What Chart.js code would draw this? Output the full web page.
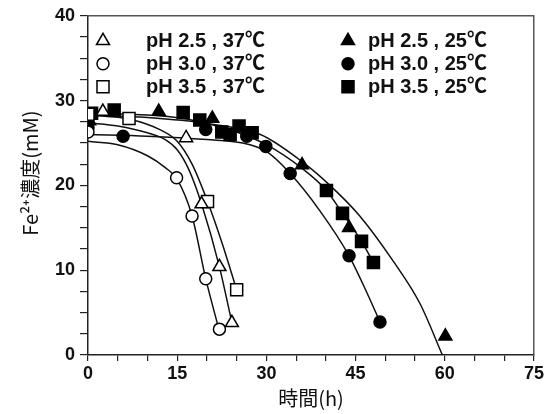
<!DOCTYPE html>
<html>
<head>
<meta charset="utf-8">
<script src="https://cdn.jsdelivr.net/npm/chart.js@4/dist/chart.umd.min.js"></script>
<style>
html, body { margin: 0; padding: 0; background: #fff; }
</style>
</head>
<body>
<canvas id="grafico" width="546" height="414"></canvas>
<script>
const tri37X = [2.5, 16.5, 19.1, 22.1, 24.2];
const tri37Y = [28.7, 25.6, 17.8, 10.4, 3.8];
const circ37X = [0, 14.9, 17.5, 19.8, 22.1];
const circ37Y = [26.3, 20.9, 16.4, 9.0, 3.05];
const sq37X = [0, 6.9, 20.1, 25.0];
const sq37Y = [28.4, 27.9, 18.1, 7.7];
const tri25X = [0.2, 11.9, 20.9, 36.0, 43.9, 60.1];
const tri25Y = [27.6, 28.7, 27.9, 22.4, 15.0, 2.2];
const circ25X = [0, 5.9, 19.8, 26.7, 29.9, 34.0, 43.9, 49.1];
const circ25Y = [26.8, 25.8, 26.6, 25.8, 24.6, 21.4, 11.7, 3.9];
const sq25X = [0.6, 4.4, 16.0, 18.8, 22.5, 23.9, 25.4, 27.6, 40.1, 42.8, 46.0, 48.0];
const sq25Y = [28.5, 28.9, 28.6, 27.7, 26.3, 26.0, 27.0, 26.2, 19.4, 16.7, 13.4, 10.9];

// fitted curves, points
const fitTri37X = [0, 5, 10, 13, 15, 17, 19.1, 22.1, 24.2];
const fitTri37Y = [27.4, 27.0, 26.2, 25.4, 24.2, 21.8, 17.8, 10.4, 3.8];
const fitCirc37X = [0, 5, 10, 13, 15, 17.5, 19.8, 22.1];
const fitCirc37Y = [25.2, 24.8, 23.5, 22.1, 20.7, 16.4, 9.0, 2.8];
const fitSq37X = [0, 7, 12, 15, 17.5, 20.1, 22.5, 25.0];
const fitSq37Y = [28.3, 27.8, 26.6, 25.2, 22.5, 18.1, 13.3, 7.7];
const fitTri25X = [0, 10, 20, 29, 36, 41, 45.7, 51.3, 55.8, 59.6];
const fitTri25Y = [28.3, 28.0, 27.3, 26.0, 22.8, 19.8, 16.4, 11.1, 6.1, 0];
const fitCirc25X = [0, 10, 20, 26, 30, 34, 39, 43.9, 47, 49.1];
const fitCirc25Y = [26.0, 25.8, 25.4, 25.0, 24.0, 21.4, 17.0, 11.7, 7.2, 3.9];
const fitSq25X = [0, 10, 16, 20, 25, 30, 36, 40.1, 42.8, 46, 48];
const fitSq25Y = [28.5, 28.3, 27.9, 27.3, 26.3, 24.8, 22.0, 19.4, 16.7, 13.4, 10.9];

const labels = ['pH 2.5 , 37℃', 'pH 3.0 , 37℃', 'pH 3.5 , 37℃',
                'pH 2.5 , 25℃', 'pH 3.0 , 25℃', 'pH 3.5 , 25℃'];

const xTitle = '時間(h)';
// leading ideographic space nudges the rotated title upward like the original
const yTitle = '\u3000 Fe²⁺濃度(mM)';

function pares(xs, ys) {
    return xs.map((x, i) => ({ x: x, y: ys[i] }));
}

function serieMarcador(label, xs, ys, estilo, raio, cheio) {
    return {
        label: label,
        marker: true,
        data: pares(xs, ys),
        showLine: false,
        pointStyle: estilo,
        pointRadius: raio,
        pointHoverRadius: raio,
        backgroundColor: cheio ? '#000' : '#fff',
        borderColor: '#000',
        borderWidth: 1.5,
        order: 1
    };
}

function serieCurva(xs, ys) {
    return {
        label: '',
        data: pares(xs, ys),
        showLine: true,
        cubicInterpolationMode: 'monotone',
        pointRadius: 0,
        borderColor: '#111',
        borderWidth: 1.5,
        order: 2
    };
}

const datasets = [
    serieMarcador(labels[0], tri37X, tri37Y, 'triangle', 7.5, false),
    serieMarcador(labels[1], circ37X, circ37Y, 'circle', 6, false),
    serieMarcador(labels[2], sq37X, sq37Y, 'rect', 8.5, false),
    serieMarcador(labels[3], tri25X, tri25Y, 'triangle', 7.5, true),
    serieMarcador(labels[4], circ25X, circ25Y, 'circle', 6, true),
    serieMarcador(labels[5], sq25X, sq25Y, 'rect', 8.5, true),
    serieCurva(fitTri37X, fitTri37Y),
    serieCurva(fitCirc37X, fitCirc37Y),
    serieCurva(fitSq37X, fitSq37Y),
    serieCurva(fitTri25X, fitTri25Y),
    serieCurva(fitCirc25X, fitCirc25Y),
    serieCurva(fitSq25X, fitSq25Y)
];

// legenda em duas colunas dentro do gráfico
const legendaPlugin = {
    id: 'legenda',
    afterDraw(chart) {
        const { ctx, chartArea } = chart;
        const marcadores = chart.data.datasets.filter(d => d.marker);
        marcadores.forEach((ds, i) => {
            const col = i < 3 ? 0 : 1;
            const row = i % 3;
            const mx = chartArea.left + (col ? 260 : 15);
            const tx = chartArea.left + (col ? 280 : 58);
            const y = chartArea.top + 25 + row * 23;
            ctx.save();
            ctx.fillStyle = ds.backgroundColor;
            ctx.strokeStyle = ds.borderColor;
            ctx.lineWidth = ds.borderWidth;
            Chart.helpers.drawPoint(ctx, {
                pointStyle: ds.pointStyle,
                radius: ds.pointRadius,
                rotation: 0,
                borderWidth: ds.borderWidth
            }, mx, y);
            ctx.fillStyle = '#111';
            ctx.font = 'bold 20px "Liberation Sans", "Noto Sans CJK JP", sans-serif';
            ctx.textBaseline = 'middle';
            ctx.fillText(ds.label, tx, y + 1);
            ctx.restore();
        });
    }
};

const fonteTicks = { family: '"Liberation Sans", Arial, sans-serif', size: 18, weight: 'bold' };
const fonteTitulo = { family: '"Noto Sans CJK JP", sans-serif', size: 20 };

const ctx = document.getElementById('grafico').getContext('2d');

const grafico = new Chart(ctx, {
    type: 'scatter',
    data: { datasets: datasets },
    options: {
        responsive: false,
        animation: false,
        devicePixelRatio: 1,
        layout: { padding: { top: 14, right: 12, left: 0, bottom: 0 } },
        plugins: {
            legend: { display: false },
            tooltip: { enabled: false }
        },
        scales: {
            x: {
                type: 'linear',
                min: 0,
                max: 75,
                afterFit: s => { s.height = 59; },
                border: { color: '#222', width: 1.5 },
                grid: { drawOnChartArea: false, tickLength: 6, color: '#222', lineWidth: 1.2 },
                ticks: {
                    stepSize: 5,
                    autoSkip: false,
                    maxRotation: 0,
                    padding: 2,
                    color: '#111',
                    font: fonteTicks,
                    callback: v => (v % 15 === 0 ? v : '')
                },
                title: { display: true, text: xTitle, color: '#111', font: fonteTitulo, padding: { top: 0, bottom: 4 } }
            },
            y: {
                type: 'linear',
                min: 0,
                max: 40,
                afterFit: s => { s.width = 88; },
                border: { color: '#222', width: 1.5 },
                grid: { drawOnChartArea: false, tickLength: 8, color: '#222', lineWidth: 1.2 },
                ticks: {
                    stepSize: 2.5,
                    autoSkip: false,
                    padding: 5,
                    color: '#111',
                    font: fonteTicks,
                    callback: v => (v % 10 === 0 ? v : '')
                },
                title: { display: true, text: yTitle, color: '#111', font: fonteTitulo, padding: { top: 18, bottom: 0 } }
            },
            x2: {
                type: 'linear',
                position: 'top',
                min: 0,
                max: 75,
                border: { color: '#555', width: 1.5 },
                grid: { display: false, drawTicks: false },
                ticks: { display: false }
            },
            y2: {
                type: 'linear',
                position: 'right',
                min: 0,
                max: 40,
                border: { color: '#555', width: 1.5 },
                grid: { display: false, drawTicks: false },
                ticks: { display: false }
            }
        }
    },
    plugins: [legendaPlugin]
});
</script>
</body>
</html>
